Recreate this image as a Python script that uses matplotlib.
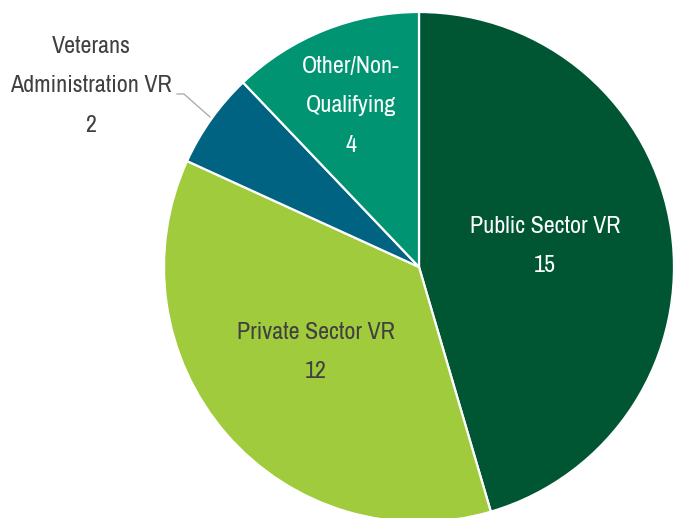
import matplotlib
matplotlib.use("Agg")
import matplotlib.pyplot as plt
from matplotlib import font_manager as fm

# ---- data ----
categories = ["Public Sector VR", "Private Sector VR", "Veterans\nAdministration VR", "Other/Non-\nQualifying"]
values = [15, 12, 2, 4]
colors = ["#005633", "#9fcb3c", "#006381", "#009472"]
text_colors = ["white", "#404040", "#404040", "white"]

# ---- layout (pixel coords, y from top) ----
W, H = 673, 518
center_px = (419, 267)
radius_px = 255
# (center x, baseline y of first line)
label_pos = [(545, 233), (316, 339), (91, 53), (351, 73)]
line_gap = 39.5
target_width = 150  # px width of "Public Sector VR" in the reference

# ---- pick a condensed font if one is installed ----
fname = None
prefs = ["Narrow", "Condensed", "SemiCondensed"]
regular = [f for f in fm.fontManager.ttflist
           if f.style == "normal" and (f.weight in (400, "normal", "regular"))]
for key in prefs:
    hits = [f for f in regular if key.lower() in (f.fname + f.name).lower()
            or key.lower() in str(f.stretch).lower()]
    hits.sort(key=lambda f: (0 if "Liberation" in f.name else 1 if "Roboto" in f.name
                             else 2 if "Open" in f.name else 3 if "Noto" in f.name else 4))
    if hits:
        fname = hits[0].fname
        break

if fname:
    base_fp = fm.FontProperties(fname=fname)
else:
    base_fp = fm.FontProperties(family="DejaVu Sans")

fig = plt.figure(figsize=(W / 100, H / 100), dpi=100)
ax = fig.add_axes([0, 0, 1, 1])

ax.pie(values, colors=colors, startangle=90, counterclock=False,
       center=(center_px[0], H - center_px[1]), radius=radius_px,
       wedgeprops=dict(edgecolor="white", linewidth=1.6), frame=True)
ax.set_xlim(0, W)
ax.set_ylim(0, H)
ax.axis("off")

# size the font so the widest label matches the reference width
probe_fp = base_fp.copy()
probe_fp.set_size(20)
probe = ax.text(0, 0, categories[0], fontproperties=probe_fp)
fig.canvas.draw()
w = probe.get_window_extent().width
probe.remove()
fsize = max(11, min(22, 20 * target_width / w))

fp = base_fp.copy()
fp.set_size(fsize)

for cat, val, tc, (x, y0) in zip(categories, values, text_colors, label_pos):
    lines = cat.split("\n") + [str(val)]
    for i, ln in enumerate(lines):
        ax.text(x, H - (y0 + i * line_gap), ln, ha="center", va="baseline",
                color=tc, fontproperties=fp)

# leader line for Veterans label
ax.plot([177, 184, 210], [H - 94, H - 94, H - 117], color="#a6a6a6", lw=0.9)

fig.savefig("out.png", dpi=100)
